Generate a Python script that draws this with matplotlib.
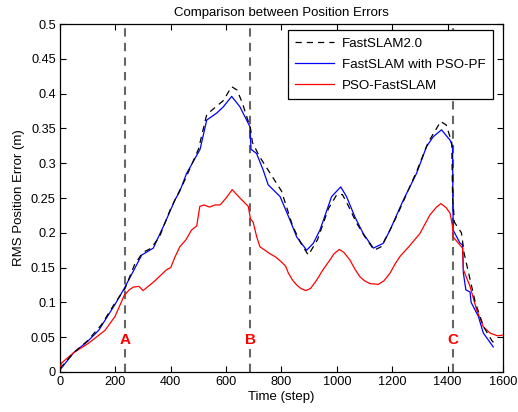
import matplotlib
matplotlib.use("Agg")
import matplotlib.pyplot as plt
import numpy as np

plt.rcParams['font.family'] = ['Liberation Sans', 'DejaVu Sans']

# FastSLAM2.0 (black dashed)
fs2_x = [0, 50, 100, 150, 200, 235, 270, 300, 330, 360, 400, 450, 500, 530, 560, 590, 620, 640, 660, 688,
         695, 720, 760, 800, 840, 870, 897, 930, 970, 1000, 1020, 1040, 1070, 1100, 1135, 1160, 1200, 1240,
         1290, 1330, 1360, 1375, 1395, 1415, 1418, 1425, 1450, 1460, 1480, 1500, 1530, 1560, 1572]
fs2_y = [0.005, 0.028, 0.045, 0.068, 0.100, 0.120, 0.155, 0.172, 0.178, 0.195, 0.235, 0.275, 0.320, 0.370,
         0.380, 0.390, 0.410, 0.405, 0.385, 0.350, 0.330, 0.310, 0.285, 0.260, 0.210, 0.185, 0.168, 0.190,
         0.235, 0.255, 0.255, 0.240, 0.215, 0.195, 0.175, 0.180, 0.210, 0.245, 0.290, 0.330, 0.350, 0.360,
         0.355, 0.330, 0.250, 0.215, 0.200, 0.170, 0.135, 0.100, 0.065, 0.045, 0.040]

# FastSLAM with PSO-PF (blue)
pso_pf_x = [0, 50, 100, 140, 200, 232, 265, 295, 337, 380, 415, 433, 457, 506, 530, 566, 590, 620, 650, 686,
            690, 710, 734, 752, 795, 831, 855, 891, 915, 939, 981, 1014, 1035, 1065, 1095, 1132, 1168, 1192,
            1240, 1288, 1324, 1348, 1378, 1409, 1418, 1420, 1445, 1454, 1457, 1466, 1481, 1485, 1511, 1529, 1565]
pso_pf_y = [0.003, 0.028, 0.044, 0.060, 0.098, 0.120, 0.145, 0.168, 0.178, 0.215, 0.247, 0.260, 0.285, 0.320,
            0.362, 0.372, 0.381, 0.396, 0.381, 0.3525, 0.320, 0.314, 0.290, 0.269, 0.252, 0.218, 0.194, 0.175,
            0.185, 0.204, 0.252, 0.266, 0.252, 0.223, 0.199, 0.178, 0.185, 0.204, 0.247, 0.2855, 0.324, 0.338,
            0.348, 0.333, 0.324, 0.204, 0.185, 0.183, 0.142, 0.118, 0.115, 0.100, 0.080, 0.056, 0.036]

# PSO-FastSLAM (red)
psofs_x = [0, 6, 50, 102, 163, 199, 232, 250, 265, 285, 300, 340, 385, 400, 415, 433, 455, 475, 494, 500,
           505, 520, 540, 560, 578, 600, 622, 650, 680, 688, 698, 710, 722, 740, 758, 780, 800, 815, 825,
           840, 855, 870, 888, 905, 927, 950, 975, 990, 1009, 1025, 1047, 1065, 1083, 1100, 1120, 1150, 1170,
           1192, 1210, 1228, 1260, 1300, 1336, 1360, 1376, 1395, 1409, 1418, 1420, 1454, 1457, 1481, 1505,
           1529, 1553, 1580, 1600]
psofs_y = [0.005, 0.013, 0.028, 0.041, 0.060, 0.080, 0.110, 0.118, 0.122, 0.123, 0.117, 0.130, 0.147, 0.150,
           0.165, 0.180, 0.190, 0.204, 0.210, 0.225, 0.238, 0.240, 0.237, 0.240, 0.240, 0.250, 0.262, 0.250,
           0.238, 0.220, 0.215, 0.195, 0.180, 0.175, 0.170, 0.165, 0.158, 0.152, 0.142, 0.132, 0.125, 0.120,
           0.117, 0.120, 0.132, 0.147, 0.161, 0.170, 0.176, 0.172, 0.161, 0.148, 0.137, 0.131, 0.127, 0.126,
           0.131, 0.142, 0.155, 0.166, 0.180, 0.199, 0.2256, 0.237, 0.242, 0.236, 0.228, 0.209, 0.194, 0.178,
           0.147, 0.123, 0.089, 0.065, 0.056, 0.052, 0.053]

marker_x = [235, 688, 1418]
marker_labels = ['A', 'B', 'C']

fig = plt.figure(figsize=(5.18, 4.12), dpi=100)
ax = fig.add_axes([0.1158, 0.0971, 0.8552, 0.8446])

for mx in marker_x:
    ax.axvline(mx, color=(0.4, 0.4, 0.4), linestyle=(0, (4, 3)), lw=1.5, zorder=1)

l2, = ax.plot(pso_pf_x, pso_pf_y, color='#0000ff', lw=0.9, zorder=2, label='FastSLAM with PSO-PF')
l3, = ax.plot(psofs_x, psofs_y, color='#ff0000', lw=0.9, zorder=3, label='PSO-FastSLAM')
l1, = ax.plot(fs2_x, fs2_y, color='black', lw=0.9, linestyle=(0, (5, 4)), zorder=4, label='FastSLAM2.0')

for mx, lab in zip(marker_x, marker_labels):
    ax.text(mx, 0.046, lab, color='#ff0000', fontsize=11, fontweight='bold', ha='center', va='center',
            zorder=5, bbox=dict(facecolor='white', edgecolor='none', pad=1.5))

ax.set_xlim(0, 1600)
ax.set_ylim(0, 0.5)
ax.set_xticks(np.arange(0, 1601, 200))
ax.set_yticks(np.arange(0, 0.501, 0.05))
ax.set_yticklabels(['0', '0.05', '0.1', '0.15', '0.2', '0.25', '0.3', '0.35', '0.4', '0.45', '0.5'])
ax.tick_params(direction='in', top=True, right=True, labelsize=9.2, length=4, width=0.8, pad=3)
for sp in ax.spines.values():
    sp.set_linewidth(0.9)

ax.set_xlabel('Time (step)', fontsize=9.5, labelpad=2)
ax.set_ylabel('RMS Position Error (m)', fontsize=9.5, labelpad=4)
ax.set_title('Comparison between Position Errors', fontsize=9.5, pad=6)

leg = ax.legend(handles=[l1, l2, l3], loc='upper right', fontsize=9.6, fancybox=False, framealpha=1,
                edgecolor='black', borderpad=0.55, handlelength=2.9, handletextpad=0.6,
                labelspacing=0.65, borderaxespad=0,
                bbox_to_anchor=(0.977, 0.983))
leg.get_frame().set_linewidth(0.9)

fig.savefig('out.png', dpi=100)
